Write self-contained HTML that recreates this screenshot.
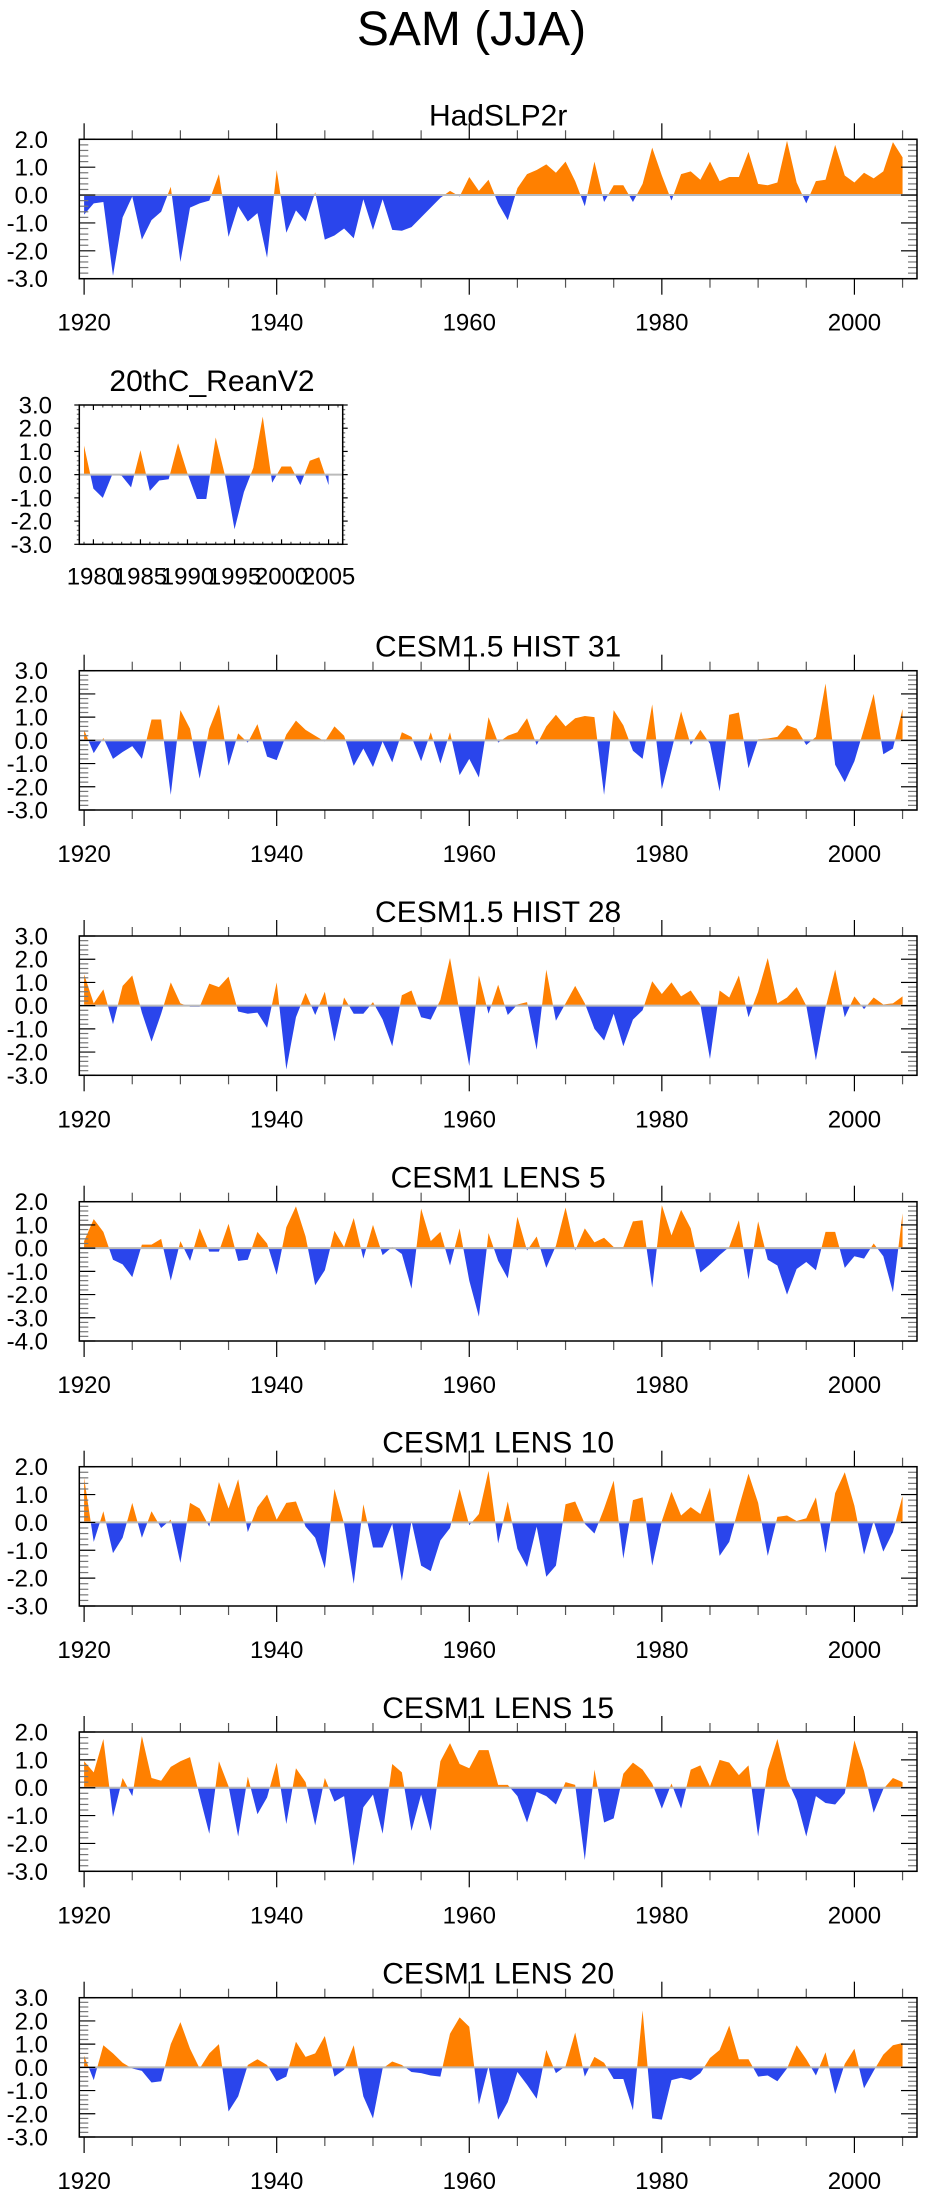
<!DOCTYPE html>
<html><head><meta charset="utf-8"><title>SAM (JJA)</title>
<style>
html,body{margin:0;padding:0;background:#fff;}
svg{display:block;font-family:"Liberation Sans",Arial,sans-serif;}
</style></head>
<body>
<svg id="fig" width="943" height="2196" viewBox="0 0 943 2196" xmlns="http://www.w3.org/2000/svg">
<text x="471.5" y="45" font-size="48" text-anchor="middle">SAM (JJA)</text>
</svg>
<script>
// ---- data (years and SAM index values) ----
const yearsLong = [];
for (let y = 1920; y <= 2005; y++) yearsLong.push(y);
const yearsReanV2 = [];
for (let y = 1979; y <= 2005; y++) yearsReanV2.push(y);

const hadslp2r = [-0.7,-0.3,-0.25,-2.9,-0.8,-0.05,-1.6,-0.9,-0.6,0.3,-2.4,-0.45,-0.3,-0.2,0.75,-1.5,-0.4,-0.95,-0.65,-2.25,0.9,-1.35,-0.55,-0.95,0.1,-1.6,-1.45,-1.2,-1.55,-0.15,-1.25,-0.15,-1.25,-1.28,-1.15,-0.8,-0.45,-0.1,0.15,-0.05,0.65,0.15,0.55,-0.3,-0.9,0.25,0.75,0.9,1.1,0.8,1.2,0.5,-0.4,1.2,-0.25,0.35,0.35,-0.25,0.4,1.7,0.7,-0.2,0.75,0.85,0.55,1.2,0.5,0.65,0.65,1.55,0.4,0.35,0.45,1.95,0.45,-0.3,0.5,0.55,1.8,0.7,0.45,0.8,0.6,0.85,1.9,1.35];
const reanV2 = [1.25,-0.6,-1.0,0.0,-0.05,-0.55,1.05,-0.7,-0.25,-0.2,1.35,0.05,-1.05,-1.05,1.6,-0.05,-2.35,-0.75,0.3,2.5,-0.35,0.35,0.35,-0.45,0.6,0.75,-0.45];
const hist31 = [0.45,-0.55,0.1,-0.8,-0.5,-0.25,-0.8,0.9,0.9,-2.35,1.3,0.5,-1.65,0.5,1.55,-1.1,0.3,-0.1,0.7,-0.7,-0.85,0.25,0.85,0.45,0.2,-0.05,0.6,0.2,-1.1,-0.35,-1.15,-0.05,-0.95,0.35,0.15,-0.9,0.35,-1.0,0.35,-1.5,-0.8,-1.6,1.0,-0.1,0.2,0.35,0.95,-0.2,0.6,1.1,0.6,0.95,1.05,1.0,-2.35,1.3,0.65,-0.45,-0.8,1.55,-2.1,-0.45,1.25,-0.2,0.45,-0.15,-2.2,1.1,1.2,-1.2,0.05,0.08,0.15,0.65,0.5,-0.2,0.15,2.45,-1.05,-1.8,-0.9,0.5,2.0,-0.6,-0.35,1.35];
const hist28 = [1.35,0.1,0.7,-0.8,0.85,1.3,-0.3,-1.55,-0.35,1.0,0.1,-0.05,-0.05,0.95,0.8,1.25,-0.25,-0.35,-0.3,-0.95,1.0,-2.75,-0.5,0.55,-0.4,0.6,-1.55,0.35,-0.35,-0.35,0.15,-0.6,-1.75,0.45,0.65,-0.5,-0.6,0.25,2.05,-0.3,-2.6,1.3,-0.35,0.9,-0.4,0.05,0.15,-1.9,1.55,-0.65,0.1,0.85,0.1,-1.0,-1.5,-0.35,-1.75,-0.6,-0.2,1.05,0.5,1.0,0.4,0.65,0.05,-2.3,0.65,0.35,1.3,-0.5,0.6,2.05,0.1,0.35,0.8,0.0,-2.35,-0.1,1.55,-0.5,0.4,-0.15,0.35,0.05,0.1,0.4];
const lens5 = [0.3,1.25,0.7,-0.5,-0.7,-1.25,0.15,0.15,0.4,-1.4,0.3,-0.55,0.85,-0.15,-0.15,1.05,-0.55,-0.5,0.7,0.2,-1.15,0.9,1.8,0.5,-1.6,-0.95,0.75,0.05,1.3,-0.45,1.0,-0.3,0.05,-0.25,-1.75,1.7,0.3,0.7,-0.75,0.85,-1.4,-2.95,0.65,-0.55,-1.3,1.35,-0.1,0.5,-0.85,0.1,1.75,-0.1,0.85,0.25,0.45,0.05,0.05,1.15,1.2,-1.7,1.85,0.55,1.65,0.85,-1.05,-0.7,-0.3,0.05,1.2,-1.35,1.15,-0.5,-0.75,-2.0,-0.9,-0.6,-0.95,0.7,0.7,-0.85,-0.35,-0.45,0.2,-0.35,-1.9,1.5];
const lens10 = [1.6,-0.7,0.4,-1.1,-0.55,0.7,-0.55,0.4,-0.2,0.1,-1.45,0.7,0.5,-0.15,1.45,0.5,1.55,-0.35,0.55,1.0,0.1,0.7,0.75,-0.15,-0.55,-1.65,1.2,-0.05,-2.2,0.65,-0.9,-0.9,-0.05,-2.1,0.05,-1.55,-1.75,-0.65,-0.2,1.2,-0.1,0.3,1.85,-0.75,0.75,-0.95,-1.6,-0.15,-1.95,-1.55,0.65,0.75,-0.05,-0.4,0.5,1.5,-1.3,0.8,0.9,-1.55,0.05,1.1,0.25,0.55,0.3,1.25,-1.2,-0.7,0.55,1.75,0.7,-1.2,0.2,0.25,0.05,0.15,0.9,-1.1,1.05,1.8,0.6,-1.15,0.05,-1.05,-0.35,0.95];
const lens15 = [0.95,0.55,1.75,-1.05,0.35,-0.3,1.85,0.35,0.25,0.75,0.95,1.1,-0.3,-1.65,0.95,0.05,-1.75,0.4,-0.95,-0.35,0.9,-1.3,0.7,0.2,-1.35,0.35,-0.5,-0.3,-2.8,-0.7,-0.25,-1.65,0.85,0.55,-1.55,-0.25,-1.55,0.95,1.6,0.85,0.7,1.35,1.35,0.1,0.1,-0.3,-1.25,-0.15,-0.3,-0.6,0.2,0.1,-2.6,0.65,-1.25,-1.1,0.5,0.9,0.65,0.15,-0.75,0.15,-0.75,0.65,0.8,0.05,1.0,0.9,0.45,0.8,-1.75,0.65,1.75,0.3,-0.45,-1.75,-0.3,-0.55,-0.6,-0.2,1.7,0.6,-0.9,-0.05,0.35,0.2];
const lens20 = [0.5,-0.55,0.95,0.6,0.2,-0.05,-0.15,-0.65,-0.6,1.0,1.95,0.8,-0.05,0.6,1.0,-1.9,-1.25,0.1,0.35,0.1,-0.6,-0.4,1.1,0.45,0.6,1.35,-0.4,-0.1,0.95,-1.25,-2.2,-0.05,0.25,0.1,-0.2,-0.25,-0.35,-0.4,1.45,2.15,1.75,-1.6,0.05,-2.25,-1.5,-0.2,-0.75,-1.35,0.75,-0.25,0.05,1.5,-0.4,0.45,0.2,-0.5,-0.5,-1.85,2.45,-2.2,-2.25,-0.55,-0.45,-0.55,-0.25,0.4,0.75,1.8,0.35,0.35,-0.4,-0.35,-0.6,-0.05,0.95,0.35,-0.35,0.65,-1.15,0.15,0.8,-0.9,-0.15,0.55,0.95,1.05];

const panelTitles = ["HadSLP2r","20thC_ReanV2","CESM1.5 HIST 31","CESM1.5 HIST 28","CESM1 LENS 5","CESM1 LENS 10","CESM1 LENS 15","CESM1 LENS 20"];
const panelSeries = [hadslp2r, reanV2, hist31, hist28, lens5, lens10, lens15, lens20];
const yTickLabels3 = ["3.0","2.0","1.0","0.0","-1.0","-2.0","-3.0"];
const yTickLabels2 = ["2.0","1.0","0.0","-1.0","-2.0","-3.0"];
const yTickLabels4 = ["2.0","1.0","0.0","-1.0","-2.0","-3.0","-4.0"];
const xTickLabelsLong = ["1920","1940","1960","1980","2000"];
const xTickLabelsShort = ["1980","1985","1990","1995","2000","2005"];

// ---- layout ----
const NS = "http://www.w3.org/2000/svg";
const svg = document.getElementById("fig");
const ORANGE = "#ff8000", BLUE = "#2a45ec";
const layouts = [
  {top:139.3, left:79.3, right:917, h:139.4, x0:1919.5, x1:2006.5, years:yearsLong, yTicks:yTickLabels2, xTicks:xTickLabelsLong, small:false},
  {top:405, left:79.3, right:342.7, h:139.3, x0:1978.5, x1:2006.5, years:yearsReanV2, yTicks:yTickLabels3, xTicks:xTickLabelsShort, small:true},
  {top:670.7, left:79.3, right:917, h:139.3, x0:1919.5, x1:2006.5, years:yearsLong, yTicks:yTickLabels3, xTicks:xTickLabelsLong, small:false},
  {top:936, left:79.3, right:917, h:139.3, x0:1919.5, x1:2006.5, years:yearsLong, yTicks:yTickLabels3, xTicks:xTickLabelsLong, small:false},
  {top:1201.7, left:79.3, right:917, h:139.3, x0:1919.5, x1:2006.5, years:yearsLong, yTicks:yTickLabels4, xTicks:xTickLabelsLong, small:false},
  {top:1466.7, left:79.3, right:917, h:139.3, x0:1919.5, x1:2006.5, years:yearsLong, yTicks:yTickLabels2, xTicks:xTickLabelsLong, small:false},
  {top:1732, left:79.3, right:917, h:139.3, x0:1919.5, x1:2006.5, years:yearsLong, yTicks:yTickLabels2, xTicks:xTickLabelsLong, small:false},
  {top:1997.7, left:79.3, right:917, h:139.3, x0:1919.5, x1:2006.5, years:yearsLong, yTicks:yTickLabels3, xTicks:xTickLabelsLong, small:false}
];

function mk(tag, attrs, parent){
  const e = document.createElementNS(NS, tag);
  for (const k in attrs) e.setAttribute(k, attrs[k]);
  (parent||svg).appendChild(e);
  return e;
}

layouts.forEach((L, pi) => {
  const vals = panelSeries[pi];
  const yMax = parseFloat(L.yTicks[0]), yMin = parseFloat(L.yTicks[L.yTicks.length-1]);
  const bottom = L.top + L.h;
  const xs = v => L.left + (v - L.x0) / (L.x1 - L.x0) * (L.right - L.left);
  const ys = v => L.top + (yMax - v) / (yMax - yMin) * L.h;
  const g = mk("g", {});
  
  

  // title
  const t = mk("text", {x:(L.left+L.right)/2, y:L.top-14, "font-size":30, "text-anchor":"middle"}, g);
  if (L.small) t.setAttribute("x", 212);
  t.textContent = panelTitles[pi];
  
  

  // clip paths
  const z = ys(0);
  const defs = mk("defs", {}, g);
  const cpA = mk("clipPath", {id:"ca"+pi}, defs);
  mk("rect", {x:L.left, y:L.top, width:L.right-L.left, height:z-L.top}, cpA);
  const cpB = mk("clipPath", {id:"cb"+pi}, defs);
  mk("rect", {x:L.left, y:z, width:L.right-L.left, height:bottom-z}, cpB);

  let pts = xs(L.years[0]).toFixed(2)+","+z.toFixed(2)+" ";
  L.years.forEach((yr,i)=>{ pts += xs(yr).toFixed(2)+","+ys(vals[i]).toFixed(2)+" "; });
  pts += xs(L.years[L.years.length-1]).toFixed(2)+","+z.toFixed(2);
  const pa = mk("polygon", {points:pts, fill:ORANGE, "clip-path":"url(#ca"+pi+")"}, g);
  
  
  const pb = mk("polygon", {points:pts, fill:BLUE, "clip-path":"url(#cb"+pi+")"}, g);
  
  

  // zero line
  const zl = mk("line", {x1:L.left, x2:L.right, y1:z, y2:z, stroke:"#bbbbbb", "stroke-width":2}, g);
  
  

  // ticks
  const dir = L.small ? 1 : -1;
  const majX = L.small ? 5 : 16, minX = L.small ? 2.5 : 9;
  const majY = L.small ? 5 : 16, minY = L.small ? 2.5 : 9;
  const xStep = L.small ? 1 : 5, xMajStep = L.small ? 5 : 20;
  const tk = mk("g", {stroke:"#000", "stroke-width":1.2}, g);
  
  
  for (let yr = Math.ceil(L.x0); yr <= L.x1; yr += 1) {
    if ((yr - 1920) % xStep !== 0) continue;
    const isMaj = (yr - 1920) % xMajStep === 0;
    const len = isMaj ? majX : minX;
    const X = xs(yr);
    mk("line", {x1:X, x2:X, y1:L.top, y2:L.top + dir*len, stroke: isMaj?"#000":"#555"}, tk);
    mk("line", {x1:X, x2:X, y1:bottom, y2:bottom - dir*len, stroke: isMaj?"#000":"#555"}, tk);
  }
  for (let k = 0; k <= Math.round((yMax - yMin)/0.2); k++) {
    const v = yMin + k*0.2;
    const isMaj = k % 5 === 0;
    const len = isMaj ? majY : minY;
    const Y = ys(v);
    mk("line", {x1:L.left, x2:L.left - dir*len, y1:Y, y2:Y, stroke: isMaj?"#000":"#777"}, tk);
    mk("line", {x1:L.right, x2:L.right + dir*len, y1:Y, y2:Y, stroke: isMaj?"#000":"#777"}, tk);
  }

  // box
  const bx = mk("rect", {x:L.left, y:L.top, width:L.right-L.left, height:L.h, fill:"none", stroke:"#000", "stroke-width":1.5}, g);
  
  

  // y labels
  const yLabRight = L.small ? 52 : 48;
  L.yTicks.forEach(lab => {
    const e = mk("text", {x:yLabRight, y:ys(parseFloat(lab))+8.5, "font-size":24, "text-anchor":"end"}, g);
    e.textContent = lab;
    
    
  });
  // x labels
  L.xTicks.forEach(lab => {
    const e = mk("text", {x:xs(parseFloat(lab)), y:bottom + (L.small ? 40 : 52), "font-size": 24, "text-anchor":"middle"}, g);
    e.textContent = lab;
    
    
  });
});
</script>
</body></html>
